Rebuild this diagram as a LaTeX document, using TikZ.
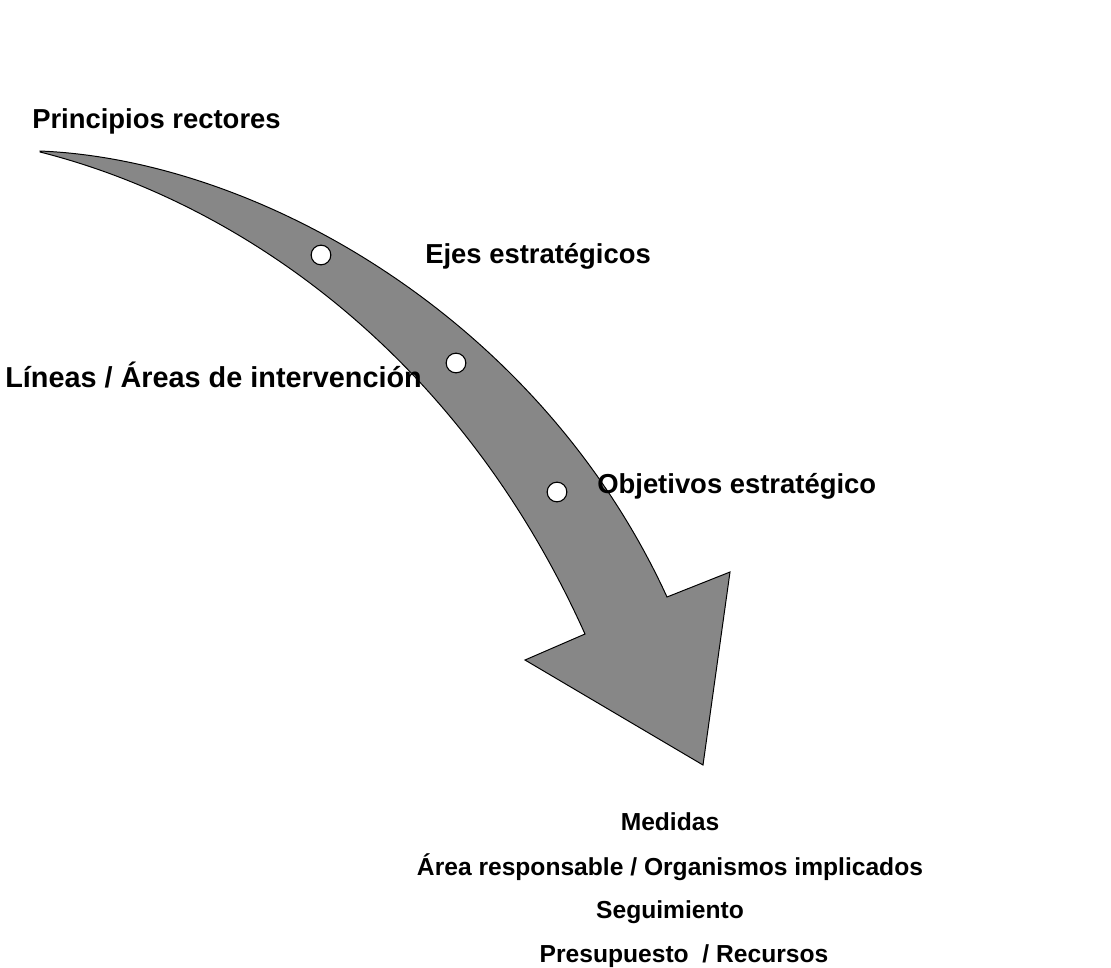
\documentclass[tikz,border=0pt]{standalone}
\usepackage{fontspec}
\setmainfont{Liberation Sans}
\definecolor{flecha}{gray}{0.53}
\tikzset{
	etiqueta/.style={font=\fontsize{19.5}{23}\selectfont\bfseries,inner sep=0pt,anchor=base west},
	medida/.style={font=\fontsize{17.5}{21}\selectfont\bfseries,inner sep=0pt,anchor=base},
	hito/.style={fill=white,draw=black,line width=0.8pt}
}
\begin{document}
\begin{tikzpicture}[x=0.025cm,y=-0.025cm]
	\useasboundingbox (0,0) rectangle (1111,967);
	\filldraw[fill=flecha,draw=black,line width=0.7pt,line join=miter]
		(40,151) .. controls (260,160) and (540,320) .. (667,597)
		-- (730,572) -- (703,765) -- (525,660) -- (585,634)
		.. controls (455,345) and (230,200) .. (40,152) -- cycle;
	\filldraw[hito](321,255) circle(7pt);
	\filldraw[hito](456,363) circle(7pt);
	\filldraw[hito](557,492) circle(7pt);
	\node[etiqueta] (principios) at (32,128) {Principios rectores};
	\node[etiqueta] (ejes) at (425,263) {Ejes estratégicos};
	\node[etiqueta,font=\fontsize{20.5}{24}\selectfont\bfseries] (lineas) at (5,387) {Líneas / Áreas de intervención};
	\node[etiqueta] (objetivos) at (597,493) {Objetivos estratégico};
	\node[medida] (medidas) at (670,830) {Medidas};
	\node[medida] (area) at (670,875) {Área responsable / Organismos implicados};
	\node[medida] (seguimiento) at (670,918) {Seguimiento};
	\node[medida] (presupuesto) at (684,962) {Presupuesto\ \ / Recursos};
\end{tikzpicture}
\end{document}
